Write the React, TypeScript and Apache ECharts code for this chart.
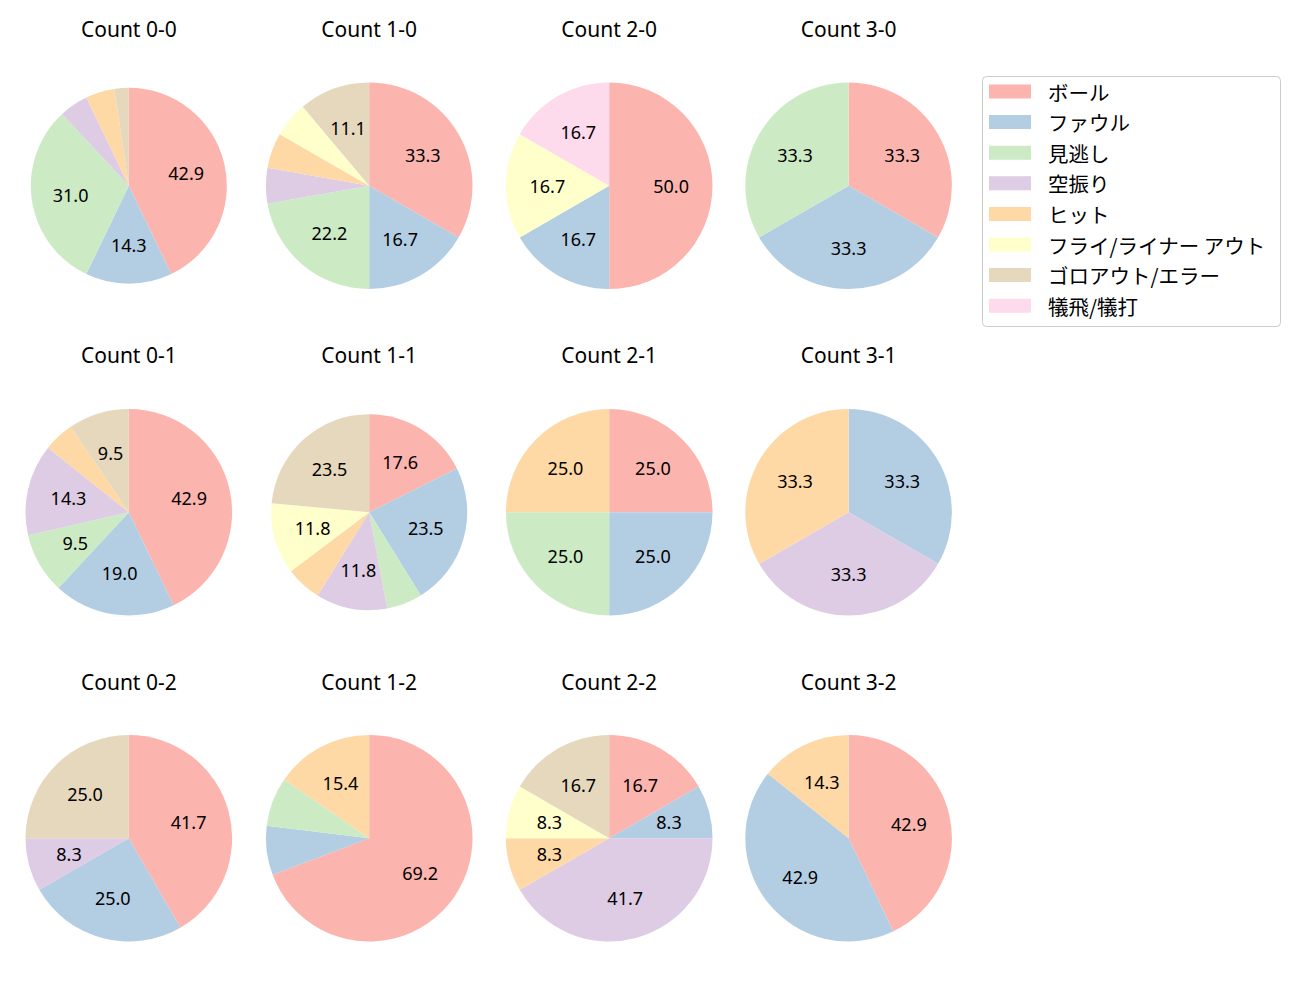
import React, { useEffect, useRef } from 'react';
import * as echarts from 'echarts';

const categories = [
  'ボール',
  'ファウル',
  '見逃し',
  '空振り',
  'ヒット',
  'フライ/ライナー アウト',
  'ゴロアウト/エラー',
  '犠飛/犠打',
];
const colors = ['#fbb4ae', '#b3cde3', '#ccebc5', '#decbe4', '#fed9a6', '#ffffcc', '#e5d8bd', '#fddaec'];

// counts per category (same order as categories), per ball-strike count
const count00 = [18, 6, 13, 2, 2, 0, 1, 0];
const count10 = [6, 3, 4, 1, 1, 1, 2, 0];
const count20 = [3, 1, 0, 0, 0, 1, 0, 1];
const count30 = [1, 1, 1, 0, 0, 0, 0, 0];
const count01 = [9, 4, 2, 3, 1, 0, 2, 0];
const count11 = [3, 4, 1, 2, 1, 2, 4, 0];
const count21 = [1, 1, 1, 0, 1, 0, 0, 0];
const count31 = [0, 1, 0, 1, 1, 0, 0, 0];
const count02 = [5, 3, 0, 1, 0, 0, 3, 0];
const count12 = [9, 1, 1, 0, 2, 0, 0, 0];
const count22 = [2, 1, 0, 5, 1, 1, 2, 0];
const count32 = [3, 3, 0, 0, 1, 0, 0, 0];

const panels = [
  { title: 'Count 0-0', values: count00, col: 0, row: 0 },
  { title: 'Count 1-0', values: count10, col: 1, row: 0 },
  { title: 'Count 2-0', values: count20, col: 2, row: 0 },
  { title: 'Count 3-0', values: count30, col: 3, row: 0 },
  { title: 'Count 0-1', values: count01, col: 0, row: 1 },
  { title: 'Count 1-1', values: count11, col: 1, row: 1 },
  { title: 'Count 2-1', values: count21, col: 2, row: 1 },
  { title: 'Count 3-1', values: count31, col: 3, row: 1 },
  { title: 'Count 0-2', values: count02, col: 0, row: 2 },
  { title: 'Count 1-2', values: count12, col: 1, row: 2 },
  { title: 'Count 2-2', values: count22, col: 2, row: 2 },
  { title: 'Count 3-2', values: count32, col: 3, row: 2 },
];

// layout (pixels)
const colX = [128.8, 369.2, 609.2, 848.6];
const rowY = [185.8, 512.2, 838.2];
const titleY = [28.5, 355, 681.5];
const radiusFor = (title: string) => (title === 'Count 0-0' || title === 'Count 1-1' ? 98 : 103.3);

const LATIN_FONT = "'Noto Sans', 'Noto Sans CJK JP', sans-serif";
const JP_FONT = "'Noto Sans CJK JP', 'Noto Sans', sans-serif";

function buildOption() {
  const mainSeries: any[] = [];
  const labelSeries: any[] = [];
  const titles: any[] = [];
  panels.forEach((p) => {
    const cx = colX[p.col];
    const cy = rowY[p.row];
    const r = radiusFor(p.title);
    const total = p.values.reduce((a, b) => a + b, 0);
    const data = categories
      .map((name, i) => ({ name, value: p.values[i], itemStyle: { color: colors[i] } }))
      .filter((d) => d.value > 0);
    titles.push({
      text: p.title,
      left: cx,
      top: titleY[p.row],
      textAlign: 'center',
      textVerticalAlign: 'middle',
      padding: 0,
      textStyle: { fontSize: 21, fontWeight: 'normal', color: '#000', fontFamily: LATIN_FONT },
    });
    mainSeries.push({
      type: 'pie',
      name: p.title,
      center: [cx, cy],
      radius: [0, r],
      startAngle: 90,
      clockwise: true,
      avoidLabelOverlap: false,
      label: { show: false },
      labelLine: { show: false },
      emphasis: { disabled: true },
      itemStyle: { borderWidth: 0 },
      data,
    });
    labelSeries.push({
      type: 'pie',
      name: p.title + ' labels',
      center: [cx, cy],
      radius: [r * 0.14, r],
      startAngle: 90,
      clockwise: true,
      silent: true,
      avoidLabelOverlap: false,
      emphasis: { disabled: true },
      itemStyle: { color: 'rgba(0,0,0,0)', borderWidth: 0 },
      labelLine: { show: false },
      label: {
        show: true,
        position: 'inside',
        color: '#000',
        fontSize: 18,
        fontFamily: LATIN_FONT,
        formatter: (params: any) => {
          const pct = (params.value / total) * 100;
          return pct >= 8 ? pct.toFixed(1) : '';
        },
      },
      data: data.map((d) => ({ name: d.name, value: d.value, itemStyle: { color: 'rgba(0,0,0,0)' } })),
    });
  });

  return {
    animation: false,
    backgroundColor: '#fff',
    title: titles,
    legend: {
      orient: 'vertical',
      left: 989,
      top: 81,
      padding: 0,
      itemWidth: 42,
      itemHeight: 14,
      itemGap: 9.6,
      icon: 'rect',
      selectedMode: false,
      data: categories,
      textStyle: {
        fontSize: 20.5,
        lineHeight: 21,
        color: '#000',
        fontFamily: JP_FONT,
        padding: [0, 0, 0, 12],
      },
    },
    graphic: [
      {
        type: 'rect',
        z: 0,
        shape: { x: 982.5, y: 76.5, width: 298, height: 250, r: 4 },
        style: { fill: 'none', stroke: '#cccccc', lineWidth: 1 },
      },
    ],
    series: [...mainSeries, ...labelSeries],
  };
}

export default function App() {
  const ref = useRef<HTMLDivElement>(null);
  useEffect(() => {
    if (!ref.current) return;
    const chart = echarts.init(ref.current, null, { renderer: 'svg' });
    chart.setOption(buildOption() as any);
    return () => chart.dispose();
  }, []);
  return (
    <div
      ref={ref}
      style={{ position: 'absolute', left: 0, top: 0, width: 1300, height: 1000, background: '#fff' }}
    />
  );
}
